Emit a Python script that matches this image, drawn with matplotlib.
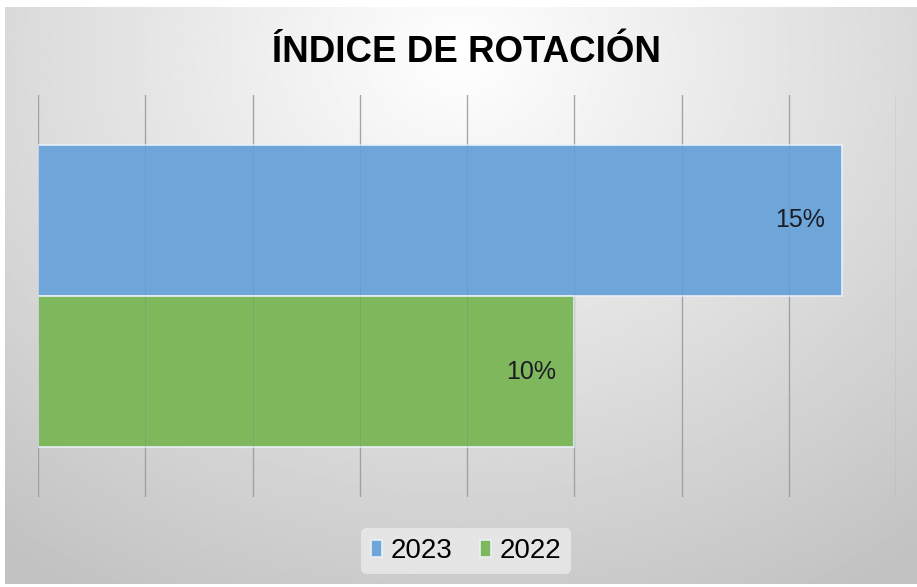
import numpy as np
import matplotlib.pyplot as plt

title = "ÍNDICE DE ROTACIÓN"
series = ["2023", "2022"]
values = [15, 10]
labels = ["15%", "10%"]
colors = ["#6FA6DA", "#7EB75C"]
x_ticks = [0, 2, 4, 6, 8, 10, 12, 14, 16]

W, H = 917, 587
fig = plt.figure(figsize=(W / 100, H / 100), dpi=100, facecolor="white")

# gray radial background of the chart area
bg = fig.add_axes([5 / W, 3 / H, 912 / W, 577 / H])
yy, xx = np.mgrid[0:1:300j, 0:1:450j]
r = np.sqrt(((xx - 0.5) / 0.75) ** 2 + ((yy - 0.08) / 1.0) ** 2)
shade = 1.0 - 0.22 * np.clip(r, 0, 1.1)
bg.imshow(shade, cmap="gray", vmin=0, vmax=1, aspect="auto",
          extent=[0, 1, 0, 1], origin="upper")
bg.axis("off")

ax = fig.add_axes([38 / W, (H - 497) / H, (896 - 38) / W, (497 - 95) / H])
ax.patch.set_alpha(0)
for s in ax.spines.values():
    s.set_visible(False)
ax.set_xlim(0, 16)
ax.set_ylim(-0.5, 0.5)
ax.set_xticks(x_ticks)
ax.set_yticks([])
ax.tick_params(axis="x", length=0, labelbottom=False)
ax.grid(axis="x", color="#a2a2a2", lw=1, alpha=0.85)
ax.set_axisbelow(True)

h = 0.376
ys = [h / 2, -h / 2]
for y, v, lab, c, name in zip(ys, values, labels, colors, series):
    ax.barh(y, v, height=h, color=c, edgecolor="#e8f0f8", lw=1.2, label=name, zorder=2)
    ax.text(v - 0.33, y, lab, ha="right", va="center", fontsize=18,
            color="#1c1c24", family="Liberation Sans", zorder=3)
# gridlines faintly visible through the bars
for t in x_ticks:
    ax.axvline(t, color="#5a7a9a", lw=0.6, alpha=0.2, zorder=2.5)

fig.text(467 / W, 1 - 62 / H, title, ha="center", va="baseline", fontsize=26.5,
         fontweight="bold", family=["Liberation Sans", "DejaVu Sans"])

leg = fig.legend(loc="center", bbox_to_anchor=(466 / W, 1 - 551 / H), ncol=2,
                 frameon=True, handlelength=0.4, handleheight=0.55,
                 handletextpad=0.3, columnspacing=1.0, borderpad=0.35,
                 prop={"family": "Liberation Sans", "size": 20})
leg.get_frame().set_facecolor("#ebebeb")
leg.get_frame().set_edgecolor("none")
leg.get_frame().set_alpha(0.8)

fig.savefig("out.png", dpi=100, facecolor="white")
